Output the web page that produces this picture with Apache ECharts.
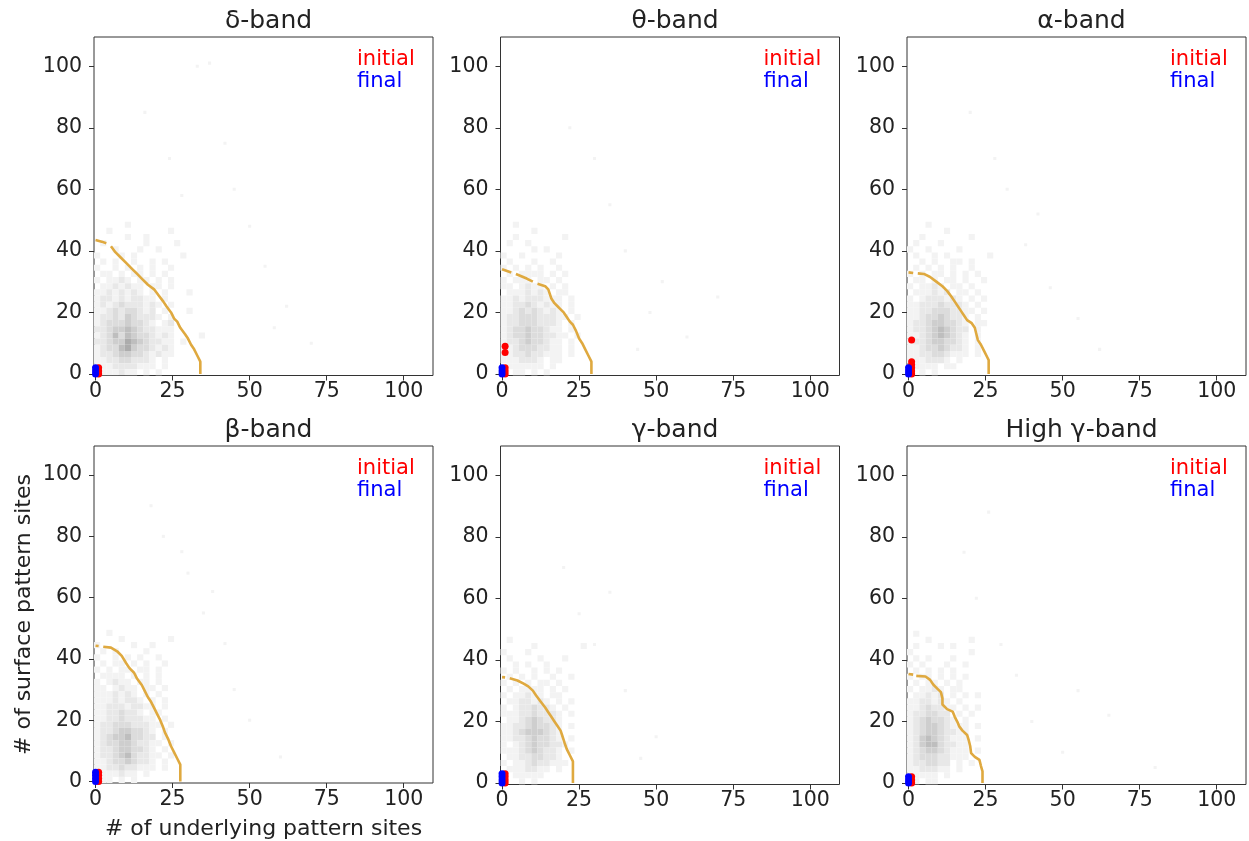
<!DOCTYPE html>
<html>
<head>
<meta charset="utf-8">
<title>pattern sites</title>
<script src="https://cdn.jsdelivr.net/npm/echarts/dist/echarts.min.js"></script>
<style>
  html, body { margin: 0; padding: 0; background: #fff; }
  #chart { width: 1249px; height: 841px; }
</style>
</head>
<body>
<div id="chart"></div>
<script>
const FONT = 'DejaVu Sans';
const bandTitles = ['δ-band', 'θ-band', 'α-band', 'β-band', 'γ-band', 'High γ-band'];
const xTicks = [0, 25, 50, 75, 100];
const yTicks = [0, 20, 40, 60, 80, 100];

// 2D histogram, 2-unit bins
// first string = y 48..49, last string = y 0..1; char k = x 2k..2k+1 ; digit = grey level
const densityDelta = [
  '.....1..............', '..1.........1.......', '.....1..1...........', '.1......1....1......',
  '...1...1..1.........', '1...1.1.......1.....', '.1.1..1..1.1........', '1..1.1.1.1..1.......',
  '.11.1.11.1.1........', '1.1121.11.1.1.......', '.1121211.11.1.......', '11212121.1.1...1....',
  '1221212211.1........', '12123222121.1.......', '1123233212.1...1....', '12232432221.1.......',
  '1233343321.12.......', '2234454322111.......', '1235354332121....1..', '2234465432211.1.....',
  '1233564332121.......', '1223443321211.......', '1122332221.1........', '1112222111.1........',
  '.111211.1.1.........'
];
const densityTheta = [
  '..1.................', '.....1..............', '..1.......1.........', '.1..1...............',
  '.....1.1............', '1..1.....1..........', '.1...1..1...........', '1.1.1.1..1..........',
  '.1.1111.1.1.........', '1.111.11.1..........', '11.1211.1.1.........', '.1112121.11.........',
  '1121222111.1........', '1122321211.1........', '1123232121.1........', '12233322211.1.......',
  '1223332221.1........', '1233433211.1........', '12334332211.1.......', '1223433211.1........',
  '1123332211.1........', '1122322111.1........', '1112221.11..........', '.111111.1...........',
  '..11.1.1............'
];
const densityAlpha = [
  '...1................', '......1.............', '..1.......1.........', '.1...1..............',
  '1..1....1...........', '.1..1.1......1......', '..1.1..11.1.........', '.1.1.1.1..1.........',
  '1.1.11.1.1.1........', '.11.1.11.1..1.......', '1.1121.11.1.........', '.111212.11.1........',
  '1.1222121.1.1.......', '1122232221.1........', '11223332211.1.......', '1123343221.1........',
  '1223443321.11.......', '1223454322.1........', '1123454321.1........', '1223443321.1........',
  '1123343221.1........', '1122332111.1........', '1112221.1...........', '.1111.11............',
  '..1.1...............'
];
const densityBeta = [
  '..1.................', '....1.......1.......', '1.....1..1..........', '.1.1....1...........',
  '1..1.1.1..1.........', '.1.11.1.1..1........', '1.1.11.11.1.........', '.1111.1.1.1.........',
  '1.1211.11.1.........', '11.1211.11.1........', '1112121.1.1.........', '11121221.1.1........',
  '1122212211.1........', '11223221.11.........', '1122322211.1........', '12233322211.1.......',
  '1223443321.1........', '1234453322.1........', '12334432211.1.......', '1223443321.1........',
  '12234532211.1.......', '1123343221.1........', '1122322111.1........', '1111211.1...........',
  '.11.1.1.............'
];
const densityGamma = [
  '....................', '.1..................', '.....1.......1......', '1...1...............',
  '.1....1...1.........', '..1.1..1............', '1.1..1.1.1..........', '.1.1.1..1..1........',
  '1.1.1.11.1..........', '.1.1111.1.1.........', '1.11211.11..........', '.1122121.1.1........',
  '1.1223221.1.........', '1112232221.1........', '.112343221..........', '1122343321.1........',
  '1123444321..........', '1122343321.1........', '1.123433221.........', '1112343221.1........',
  '.112233221..........', '1.112322111.........', '.1112211.1..........', '..11111.............',
  '...1.1..............'
];
const densityHighGamma = [
  '.1..................', '...1......1.........', '.1...1.1............', '1.........1.........',
  '.1.1...1............', '1.1...1..1..........', '.1.1.1.1............', '1.11.1.1.1..........',
  '.1.11.1.1...........', '1.1121.11...........', '.11212.1.1.1........', '1122121.1...........',
  '11232211.1.1........', '1223322.1.1.........', '12343321.1..........', '1234432111.1........',
  '1234432211..........', '1245432111.1........', '1245532211..........', '1234432111.1........',
  '1233322111..........', '1223322.1.1.........', '1122211.1...........', '11111.1.............',
  '.1.11...............'
];

// single faint sites outside the dense block
const strayDelta = [[33, 100], [37, 101], [45, 60], [55, 35], [50, 48], [62, 22], [24, 70], [16, 85], [70, 10], [42, 75], [58, 15], [28, 58]];
const strayTheta = [[40, 40], [48, 20], [35, 55], [30, 70], [60, 12], [22, 80], [52, 30], [44, 8], [70, 25]];
const strayAlpha = [[38, 42], [32, 60], [46, 28], [55, 18], [28, 70], [62, 8], [42, 52], [20, 85]];
const strayBeta = [[35, 55], [42, 45], [28, 75], [22, 80], [50, 20], [60, 8], [38, 62], [45, 30], [18, 90], [30, 68]];
const strayGamma = [[30, 45], [40, 30], [25, 55], [50, 15], [35, 62], [20, 70], [45, 8]];
const strayHighGamma = [[40, 20], [30, 45], [22, 60], [18, 75], [26, 88], [50, 10], [65, 22], [35, 35], [80, 5], [55, 30]];

// orange boundary curves (null = gap in the line)
const contourDelta = [[0, 43.5], [2, 43], [3.5, 42.5], null, [5, 41.5], [6.5, 39.5], [8, 38], [10, 36], [12, 34], [13.5, 32.5], [15, 31], [17, 29], [19, 27.5], [20.5, 25.5], [22, 23.5], [23, 22], [24.5, 20], [25.5, 18], [26.5, 17], [27.5, 15], [29, 13], [30, 11.5], [31, 9.5], [32, 8], [33, 6], [34, 4], [34, 0]];
const contourTheta = [[0, 34], [3, 33], null, [4.5, 32.5], [8, 31], [10, 30], null, [11.5, 29.3], [14, 28.5], [15, 27.5], [15.5, 26], [16, 24.5], [17, 23], [18, 22], [19, 21], [20, 20], [21, 18.5], [22, 17], [23, 16], [24, 14], [25, 11.5], [26, 10], [27, 8], [28, 6], [29, 4], [29, 0]];
const contourAlpha = [[0, 33], [1.5, 32.8], null, [3, 32.7], [5, 32.5], [7, 31.5], [9, 30], [11, 28.5], [12.5, 27], [14, 25], [15, 23.5], [16, 22], [17, 20.5], [18, 19], [19, 17.5], [20.5, 16.5], [21.5, 15], [22, 13], [22.5, 11], [23.5, 9.5], [24.5, 7.5], [25.5, 5.5], [26, 4.5], [26, 0]];
const contourBeta = [[0, 44.3], [1, 44.2], null, [2.5, 44], [5, 43.7], [7, 42.5], [8.5, 41], [10, 38.5], [11, 37], [12.5, 35.5], [13.5, 33.5], [15, 31.5], [16, 29.5], [17, 27.5], [18, 26], [19, 24], [20, 22], [21, 20], [22, 17.5], [22.5, 16], [23.5, 14], [24.5, 11.5], [25.5, 9.5], [26.5, 7.5], [27.5, 5.5], [27.5, 0]];
const contourGamma = [[0, 34.4], [1, 34.3], null, [2.5, 34], [5, 33.3], [7, 32.3], [8.5, 31.4], [10, 30], [11, 28.5], [12.5, 26.5], [14, 24.5], [15, 23], [16, 21.5], [17, 20], [18, 18.5], [19, 17], [19.5, 15.5], [20.3, 13], [21, 11], [22, 9], [23, 7], [23, 0]];
const contourHighGamma = [[0, 35.4], [1.5, 35.2], null, [2.5, 34.8], [5.5, 34.6], [7, 33.5], [8, 32], [9, 31], [10.5, 29.5], [11, 27.5], [11, 25.5], [12.5, 24], [14.3, 23.2], [15, 21.5], [16, 19.5], [16.5, 18.3], [17.5, 17], [19, 15.6], [19.5, 14], [20, 12], [20.3, 9.7], [21.5, 8.5], [23, 7.5], [23.5, 5.5], [24, 3.8], [24, 0]];

// initial (red) / final (blue) points
const initialDelta = [[1, 0], [1, 1], [1, 2]];
const finalDelta = [[0, 0], [0, 1], [0, 2]];
const initialTheta = [[1, 0], [1, 1], [1, 2], [1, 7], [1, 9]];
const finalTheta = [[0, 0], [0, 1], [0, 2]];
const initialAlpha = [[1, 0], [1, 1], [1, 2], [1, 3], [1, 4], [1, 11]];
const finalAlpha = [[0, 0], [0, 1], [0, 2]];
const initialBeta = [[1, 0], [1, 1], [1, 2], [1, 3]];
const finalBeta = [[0, 0], [0, 1], [0, 2], [0, 3]];
const initialGamma = [[1, 0], [1, 1], [1, 2], [1, 3]];
const finalGamma = [[0, 0], [0, 1], [0, 2], [0, 3]];
const initialHighGamma = [[1, 0], [1, 1], [1, 2]];
const finalHighGamma = [[0, 0], [0, 1], [0, 2]];

const panels = [
  { density: densityDelta, stray: strayDelta, contour: contourDelta, initial: initialDelta, final: finalDelta },
  { density: densityTheta, stray: strayTheta, contour: contourTheta, initial: initialTheta, final: finalTheta },
  { density: densityAlpha, stray: strayAlpha, contour: contourAlpha, initial: initialAlpha, final: finalAlpha },
  { density: densityBeta, stray: strayBeta, contour: contourBeta, initial: initialBeta, final: finalBeta },
  { density: densityGamma, stray: strayGamma, contour: contourGamma, initial: initialGamma, final: finalGamma },
  { density: densityHighGamma, stray: strayHighGamma, contour: contourHighGamma, initial: initialHighGamma, final: finalHighGamma },
];

const gridLefts = [94, 500.5, 907];
const gridTops = [37, 446];
const gridW = 339, gridH = 338.5;
const greys = [255, 243, 232, 220, 206, 190, 172]; // Greys colormap, light end

// -> [x, y, binSize, level]
function toCells(rows, stray) {
  const cells = [];
  const n = rows.length;
  rows.forEach((row, r) => {
    for (let k = 0; k < row.length; k++) {
      const c = row[k];
      if (c === '.') continue;
      cells.push([2 * k, 2 * (n - 1 - r), 2, +c]);
    }
  });
  stray.forEach(p => cells.push([p[0], p[1], 1, 1]));
  return cells;
}

function splitLine(pts) {
  const segs = [[]];
  pts.forEach(p => {
    if (p === null) segs.push([]);
    else segs[segs.length - 1].push(p);
  });
  return segs.filter(s => s.length > 1);
}

function renderCell(params, api) {
  const x = api.value(0), y = api.value(1), s = api.value(2), lv = api.value(3);
  const p1 = api.coord([x - 0.5, y + s - 0.5]);
  const p2 = api.coord([x + s - 0.5, y - 0.5]);
  const g = greys[Math.min(lv, greys.length - 1)];
  return {
    type: 'rect',
    shape: { x: p1[0], y: p1[1], width: p2[0] - p1[0], height: p2[1] - p1[1] },
    style: { fill: 'rgb(' + g + ',' + g + ',' + g + ')' }
  };
}

const grid = [], xAxis = [], yAxis = [], series = [], title = [], graphic = [];

panels.forEach((pn, i) => {
  const col = i % 3, row = Math.floor(i / 3);
  const left = gridLefts[col], top = gridTops[row];
  grid.push({
    left: left, top: top, width: gridW, height: gridH,
    show: true, borderColor: '#333', borderWidth: 1, backgroundColor: 'transparent'
  });
  xAxis.push({
    type: 'value', gridIndex: i, min: -0.5, max: 109.5,
    name: i === 3 ? '# of underlying pattern sites' : '',
    nameLocation: 'middle', nameGap: 35,
    nameTextStyle: { fontFamily: FONT, fontSize: 22, color: '#222' },
    axisLine: { show: false, onZero: false },
    splitLine: { show: false },
    axisTick: { show: true, customValues: xTicks, length: 5, lineStyle: { color: '#333' } },
    axisLabel: { customValues: xTicks, fontFamily: FONT, fontSize: 20.5, color: '#222', margin: 6 }
  });
  yAxis.push({
    type: 'value', gridIndex: i, min: -0.5, max: 109.5,
    name: i === 3 ? '# of surface pattern sites' : '',
    nameLocation: 'middle', nameGap: 59,
    nameTextStyle: { fontFamily: FONT, fontSize: 22, color: '#222' },
    axisLine: { show: false, onZero: false },
    splitLine: { show: false },
    axisTick: { show: true, customValues: yTicks, length: 5, lineStyle: { color: '#333' } },
    axisLabel: { customValues: yTicks, fontFamily: FONT, fontSize: 20.5, color: '#222', margin: 12 }
  });

  series.push({
    type: 'custom', xAxisIndex: i, yAxisIndex: i,
    renderItem: renderCell, data: toCells(pn.density, pn.stray),
    encode: { x: 0, y: 1 }, clip: true, silent: true, z: 1
  });
  splitLine(pn.contour).forEach(seg => {
    series.push({
      type: 'line', xAxisIndex: i, yAxisIndex: i, data: seg,
      showSymbol: false, symbol: 'none', silent: true,
      lineStyle: { color: '#dfa93f', width: 2.6 }, z: 3
    });
  });
  series.push({
    type: 'scatter', xAxisIndex: i, yAxisIndex: i, data: pn.initial,
    symbolSize: 7, itemStyle: { color: '#ff0000', opacity: 1 }, z: 4
  });
  series.push({
    type: 'scatter', xAxisIndex: i, yAxisIndex: i, data: pn.final,
    symbolSize: 7, itemStyle: { color: '#0000ff', opacity: 1 }, z: 5
  });

  title.push({
    text: bandTitles[i], left: left + gridW / 2, top: top - 33, textAlign: 'center',
    textStyle: { fontFamily: FONT, fontSize: 25, fontWeight: 'normal', color: '#222' }
  });
  graphic.push({
    type: 'text', left: left + 263, top: top + 12,
    style: { text: 'initial', fill: '#ff0000', font: '21px "DejaVu Sans"' }, z: 10
  });
  graphic.push({
    type: 'text', left: left + 263, top: top + 34.5,
    style: { text: 'final', fill: '#0000ff', font: '21px "DejaVu Sans"' }, z: 10
  });
});

const myChart = echarts.init(document.getElementById('chart'), null, { renderer: 'canvas' });
myChart.setOption({
  animation: false,
  backgroundColor: '#fff',
  title: title,
  grid: grid,
  xAxis: xAxis,
  yAxis: yAxis,
  series: series,
  graphic: graphic
});
</script>
</body>
</html>
